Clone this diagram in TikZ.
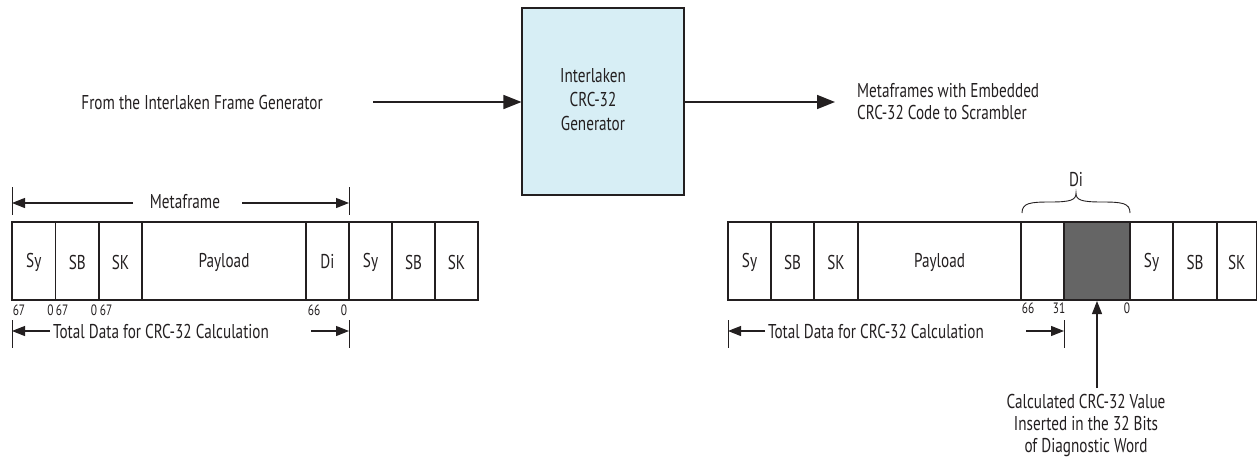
\documentclass[tikz,border=0pt]{standalone}
\usepackage{fontspec}
\setmainfont{PT Sans}[FakeStretch=0.76]
\usetikzlibrary{arrows.meta}
\definecolor{boxblue}{HTML}{D7EEF5}
\definecolor{darkcell}{HTML}{656565}
\definecolor{ink}{HTML}{231F20}
\tikzset{
  lbl/.style={font=\fontsize{20}{22}\selectfont, text=ink, inner sep=0pt, align=center},
  lbll/.style={font=\fontsize{20}{22}\selectfont, text=ink, inner sep=0pt, align=left},
  num/.style={font=\fontsize{15}{16}\selectfont, text=ink, inner sep=0pt},
  cellline/.style={draw=ink, line width=1.1pt},
  bigarrow/.style={draw=ink, line width=1.6pt, -{Triangle[length=18pt,width=14pt]}},
  dimarrow/.style={draw=ink, line width=1.1pt, -{Triangle[length=13pt,width=10pt]}},
  tick/.style={draw=ink, line width=0.9pt},
}
\begin{document}
\begin{tikzpicture}[x=1pt,y=-1pt]
\useasboundingbox (0,0) rectangle (1257,461);

% generator block
\node[draw=ink, line width=1.1pt, fill=boxblue, minimum width=162pt, minimum height=187pt, inner sep=0pt] (gen) at (603,101.5) {};
\node[lbl, font=\fontsize{20}{24}\selectfont] (gentext) at (593,100) {Interlaken\\CRC-32\\Generator};

% input
\node[lbl, anchor=east] (src) at (323,102) {From the Interlaken Frame Generator};
\coordinate (inA) at (373,102);
\draw[bigarrow] (inA) -- (gen.west |- inA);

% output
\coordinate (outB) at (835,102);
\draw[bigarrow] (gen.east |- outB) -- (outB);
\node[lbll, anchor=west] (dst) at (857,102) {Metaframes with Embedded\\CRC-32 Code to Scrambler};

% ---------------- left frame ----------------
\foreach \a/\b/\t [count=\i] in {12/55.6/Sy, 55.6/99/SB, 99/142/SK, 142/306/Payload, 306/349/Di, 349/392/Sy, 392/435/SB, 435/478/SK}{
  \draw[cellline] (\a,222) rectangle (\b,300);
  \node[lbl] (L\i) at ({(\a+\b)/2},262) {\t};
}
% Metaframe dimension
\coordinate (mL) at (12,203);
\coordinate (mR) at (349,203);
\draw[tick] (12,187) -- (12,215);
\draw[tick] (349,187) -- (349,215);
\node[lbl] (meta) at (185,202) {Metaframe};
\coordinate (mLs) at (133,203);
\coordinate (mRs) at (242,203);
\draw[dimarrow] (mLs) -- (mL);
\draw[dimarrow] (mRs) -- (mR);
% bit numbers
\node[num] (n1) at (19,310) {67};
\node[num] (n2) at (50.5,310) {0};
\node[num] (n3) at (62,310) {67};
\node[num] (n4) at (94,310) {0};
\node[num] (n5) at (106,310) {67};
\node[num] (n6) at (314,310) {66};
\node[num] (n7) at (344,310) {0};
% total data left
\draw[tick] (12,320) -- (12,348);
\draw[tick] (349,320) -- (349,348);
\node[lbl] (totL) at (161,331) {Total Data for CRC-32 Calculation};
\coordinate (tL1) at (50,331);
\coordinate (tL0) at (12,331);
\coordinate (tR1) at (311,331);
\coordinate (tR0) at (349,331);
\draw[dimarrow] (tL1) -- (tL0);
\draw[dimarrow] (tR1) -- (tR0);

% ---------------- right frame ----------------
\fill[darkcell] (1064,222) rectangle (1130,300);
\foreach \a/\b/\t [count=\i] in {728/771/Sy, 771/814/SB, 814/858/SK, 858/1021/Payload, 1021/1064/{}, 1064/1130/{}, 1130/1173/Sy, 1173/1217/SB, 1217/1256.5/SK}{
  \draw[cellline] (\a,222) rectangle (\b,300);
  \node[lbl] (R\i) at ({(\a+\b)/2},262) {\t};
}
% brace
\draw[ink, line width=0.9pt] (1022,213) .. controls (1022,203) and (1030,202) .. (1050,202)
  .. controls (1071,202) and (1076,200) .. (1076,193)
  .. controls (1076,200) and (1081,202) .. (1102,202)
  .. controls (1122,202) and (1130,203) .. (1130,213);
\node[lbl] (di) at (1076,180) {Di};
% bit numbers
\node[num] (m1) at (1028,308) {66};
\node[num] (m2) at (1059,308) {31};
\node[num] (m3) at (1127,308) {0};
% total data right
\draw[tick] (728,320) -- (728,348);
\draw[tick] (1064,320) -- (1064,348);
\node[lbl] (totR) at (876,331) {Total Data for CRC-32 Calculation};
\coordinate (sL1) at (765,331);
\coordinate (sL0) at (728,331);
\coordinate (sR1) at (1026,331);
\coordinate (sR0) at (1064,331);
\draw[dimarrow] (sL1) -- (sL0);
\draw[dimarrow] (sR1) -- (sR0);
% calculated value
\node[lbl] (calc) at (1086,425) {Calculated CRC-32 Value\\Inserted in the 32 Bits\\of Diagnostic Word};
\coordinate (cTip) at (1097,301);
\coordinate (cBase) at (1097,388);
\draw[draw=ink, line width=1.1pt, -{Triangle[length=13pt,width=10pt]}] (cBase) -- (cTip);
\end{tikzpicture}
\end{document}
